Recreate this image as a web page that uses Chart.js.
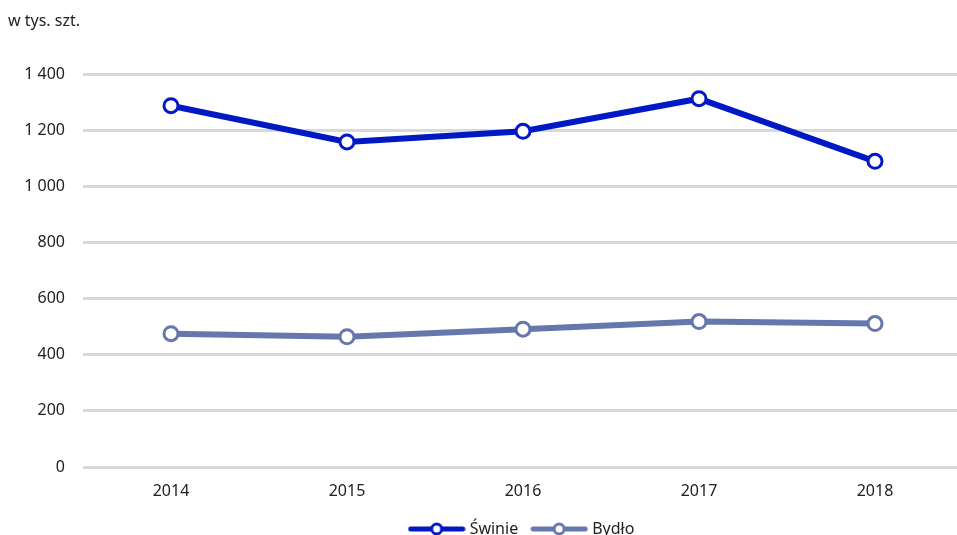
<!DOCTYPE html>
<html lang="pl">
<head>
    <meta charset="UTF-8">
    <title>Świnie i bydło</title>
    <script src="https://cdn.jsdelivr.net/npm/chart.js"></script>
    <style>
        html, body { margin: 0; padding: 0; background: #fff; overflow: hidden; }
    </style>
</head>
<body>
    <canvas id="chart" width="957" height="535"></canvas>

    <script>
        const years = ['2014', '2015', '2016', '2017', '2018'];
        const swinie = [1287, 1158, 1196, 1312, 1089];
        const bydlo = [475, 464, 491, 518, 511];
        const unitLabel = 'w tys. szt.';

        const blue = '#0019c4';
        const grey = '#6677ae';
        const bandWidth = 176; // one year on the x axis, in px

        function legendIcon(color) {
            const c = document.createElement('canvas');
            c.width = 58;
            c.height = 16;
            const g = c.getContext('2d');
            g.strokeStyle = color;
            g.lineWidth = 5;
            g.lineCap = 'round';
            g.beginPath();
            g.moveTo(3, 8);
            g.lineTo(55, 8);
            g.stroke();
            g.fillStyle = '#fff';
            g.lineWidth = 3;
            g.beginPath();
            g.arc(29, 8, 5, 0, Math.PI * 2);
            g.fill();
            g.stroke();
            return c;
        }

        // plot area runs past the right edge like the original, legend centred under it,
        // fixed legend height, unit label in the corner
        const extras = {
            id: 'extras',
            afterInit(chart) {
                const fit = chart.legend.fit;
                chart.legend.fit = function () {
                    fit.call(this);
                    this.height = 30;
                };
            },
            afterLayout(chart) {
                const x = chart.scales.x;
                x.right = x.left + bandWidth * years.length;
                x.width = x.right - x.left;
                x.configure();
                chart.chartArea.right = x.right;
                chart.chartArea.width = x.width;
                chart.legend.left = chart.chartArea.left;
                chart.legend.right = chart.chartArea.right;
            },
            afterDraw(chart) {
                const ctx = chart.ctx;
                ctx.save();
                ctx.font = '16px "Noto Sans"';
                ctx.fillStyle = '#222';
                ctx.textBaseline = 'middle';
                ctx.fillText(unitLabel, 8, 21);
                ctx.restore();
            }
        };

        const icons = [legendIcon(blue), legendIcon(grey)];

        new Chart(document.getElementById('chart'), {
            type: 'line',
            data: {
                labels: years,
                datasets: [{
                    label: 'Świnie',
                    data: swinie,
                    borderColor: blue,
                    borderWidth: 6,
                    pointRadius: 7,
                    pointBorderWidth: 3,
                    pointBackgroundColor: '#fff',
                    pointBorderColor: blue
                }, {
                    label: 'Bydło',
                    data: bydlo,
                    borderColor: grey,
                    borderWidth: 6,
                    pointRadius: 7,
                    pointBorderWidth: 3,
                    pointBackgroundColor: '#fff',
                    pointBorderColor: grey
                }]
            },
            options: {
                responsive: false,
                animation: false,
                layout: { padding: { top: 74, left: 8, right: 0, bottom: 0 } },
                plugins: {
                    legend: {
                        position: 'bottom',
                        labels: {
                            usePointStyle: true,
                            pointStyleWidth: 50,
                            padding: 16,
                            color: '#222',
                            font: { family: '"Noto Sans"', size: 16 },
                            generateLabels: (chart) => chart.data.datasets.map((ds, i) => ({
                                text: ds.label,
                                pointStyle: icons[i],
                                fillStyle: ds.borderColor,
                                strokeStyle: ds.borderColor,
                                lineWidth: 0,
                                fontColor: '#222',
                                datasetIndex: i
                            }))
                        }
                    },
                    tooltip: { enabled: false }
                },
                scales: {
                    x: {
                        offset: true,
                        afterFit(scale) {
                            scale.height = 38;
                            scale.paddingLeft = 0;
                            scale.paddingRight = 0;
                        },
                        grid: { display: false, drawTicks: false },
                        border: { display: false },
                        ticks: {
                            color: '#222',
                            padding: 15,
                            font: { family: '"Noto Sans"', size: 16 }
                        }
                    },
                    y: {
                        min: 0,
                        max: 1400,
                        afterFit(scale) { scale.width = 75; },
                        grid: { color: '#d9d9d9', lineWidth: 3, drawTicks: false },
                        border: { display: false },
                        ticks: {
                            stepSize: 200,
                            padding: 18,
                            color: '#222',
                            font: { family: '"Noto Sans"', size: 16 },
                            callback: (v) => String(v).replace(/^(\d)(\d{3})$/, '$1 $2')
                        }
                    }
                }
            },
            plugins: [extras]
        });
    </script>
</body>
</html>
